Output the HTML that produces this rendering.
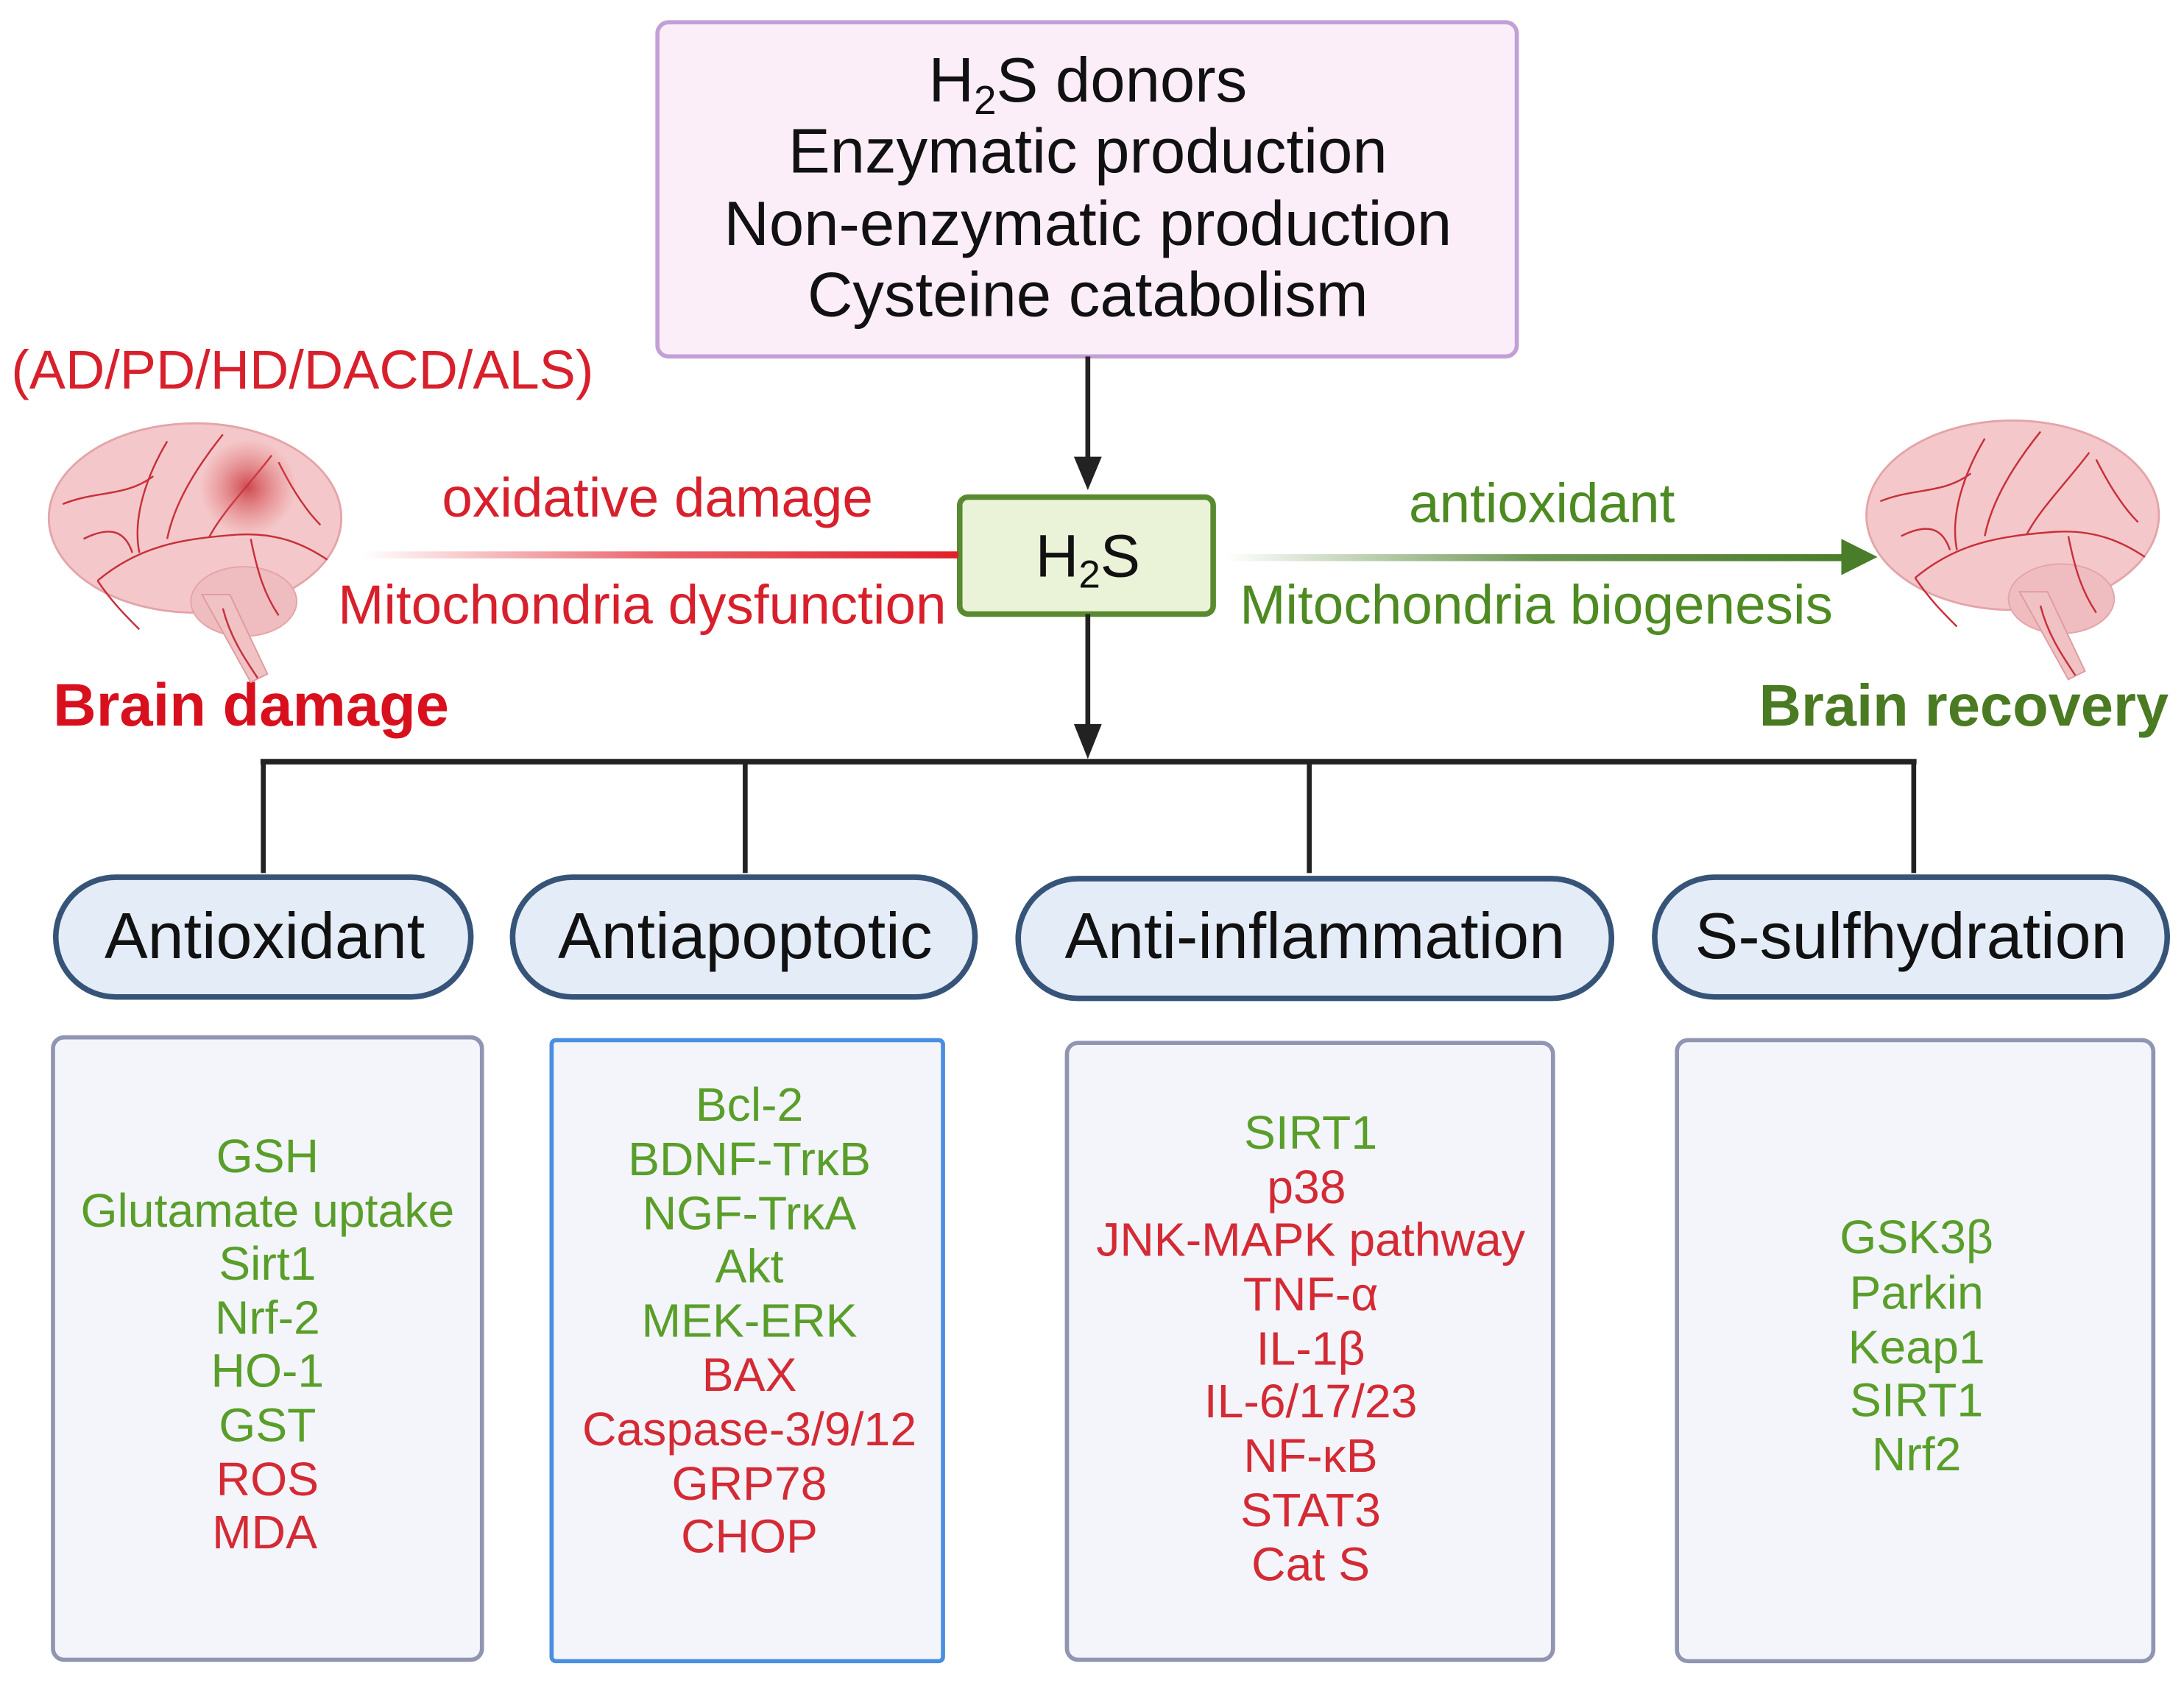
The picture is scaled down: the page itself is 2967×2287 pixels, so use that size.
<!DOCTYPE html>
<html><head><meta charset="utf-8"><style>
html,body{margin:0;padding:0;background:#fff;}
svg{display:block;}
text{font-family:"Liberation Sans",sans-serif;}
</style></head><body>
<svg width="2967" height="2287" viewBox="0 0 1568 1208.7" xmlns="http://www.w3.org/2000/svg">
<defs>
<linearGradient id="rg" x1="0" x2="1" y1="0" y2="0"><stop offset="0" stop-color="#e0202a" stop-opacity="0"/><stop offset="0.5" stop-color="#e0202a" stop-opacity="0.7"/><stop offset="1" stop-color="#e0202a"/></linearGradient>
<linearGradient id="gg" x1="0" x2="1" y1="0" y2="0"><stop offset="0" stop-color="#4a7d2a" stop-opacity="0"/><stop offset="0.5" stop-color="#4a7d2a" stop-opacity="0.8"/><stop offset="1" stop-color="#4a7d2a"/></linearGradient>
<radialGradient id="spot"><stop offset="0" stop-color="#c8343c" stop-opacity="0.85"/><stop offset="1" stop-color="#e06060" stop-opacity="0"/></radialGradient>
<g id="brain">
<ellipse cx="0" cy="0" rx="105" ry="68" fill="#f4c8ca" stroke="#e4a4a8" stroke-width="1.5"/>
<ellipse cx="35" cy="60" rx="38" ry="25" fill="#efbcc0" stroke="#e4a4a8"/>
<path d="M5 55 L40 118 L52 112 L25 55Z" fill="#f0c2c4" stroke="#e09a9e"/>
<g fill="none" stroke="#c8303a" stroke-width="1.3">
<path d="M-70 45 C-40 20 -10 15 30 12 C60 10 80 20 95 30"/>
<path d="M-40 25 C-45 0 -35 -30 -20 -55"/>
<path d="M-20 15 C-15 -10 0 -35 20 -60"/>
<path d="M10 14 C20 -5 40 -25 55 -45"/>
<path d="M-70 45 C-60 60 -50 70 -40 80"/>
<path d="M-95 -10 C-70 -20 -50 -15 -30 -30"/>
<path d="M40 15 C45 40 50 55 60 70"/>
<path d="M20 65 C25 85 35 100 45 115"/>
<path d="M-80 15 C-60 5 -50 10 -45 25"/>
<path d="M60 -40 C70 -20 80 -5 90 5"/>
</g>
</g>
</defs>

<rect x="472" y="16" width="617" height="240" rx="8" fill="#fbeef8" stroke="#c2a0d6" stroke-width="3"/>
<g font-size="45" fill="#111" text-anchor="middle">
<text x="781" y="73">H<tspan font-size="29" dy="9">2</tspan><tspan dy="-9">S donors</tspan></text>
<text x="781" y="124">Enzymatic production</text>
<text x="781" y="176">Non-enzymatic production</text>
<text x="781" y="227">Cysteine catabolism</text>
</g>

<line x1="781" y1="256" x2="781" y2="330" stroke="#222" stroke-width="3.5"/>
<polygon points="771,328 791,328 781,352" fill="#222"/>

<rect x="689" y="357" width="182" height="84" rx="6" fill="#eaf3d8" stroke="#5a8a30" stroke-width="4"/>
<text x="781" y="414" font-size="43" fill="#111" text-anchor="middle">H<tspan font-size="28" dy="8">2</tspan><tspan dy="-8">S</tspan></text>

<rect x="260" y="396" width="428" height="5" fill="url(#rg)"/>
<rect x="880" y="398" width="445" height="5" fill="url(#gg)"/>
<polygon points="1322,387 1348,400 1322,413" fill="#4a7d2a"/>

<g font-size="39.5" text-anchor="middle">
<text x="472" y="371" fill="#d8202c">oxidative damage</text>
<text x="461" y="448" fill="#d8202c">Mitochondria dysfunction</text>
<text x="1107" y="375" fill="#4e8a22">antioxidant</text>
<text x="1103" y="448" fill="#4e8a22">Mitochondria biogenesis</text>
</g>
<text x="8" y="279" font-size="39" fill="#d8202c">(AD/PD/HD/DACD/ALS)</text>
<text x="38" y="521" font-size="43" font-weight="bold" fill="#d8101e">Brain damage</text>
<text x="1557" y="521" font-size="42" font-weight="bold" fill="#4a7a22" text-anchor="end">Brain recovery</text>

<use href="#brain" transform="translate(140,372)"/>
<circle cx="178" cy="350" r="35" fill="url(#spot)"/>
<use href="#brain" transform="translate(1445,370)"/>

<line x1="781" y1="441" x2="781" y2="522" stroke="#222" stroke-width="3.5"/>
<polygon points="771,520 791,520 781,545" fill="#222"/>
<line x1="187" y1="547" x2="1376" y2="547" stroke="#222" stroke-width="4"/>
<g stroke="#222" stroke-width="3.5">
<line x1="189" y1="547" x2="189" y2="627"/>
<line x1="535" y1="547" x2="535" y2="627"/>
<line x1="940" y1="547" x2="940" y2="627"/>
<line x1="1374" y1="547" x2="1374" y2="627"/>
</g>

<g fill="#e4ecf8" stroke="#365478" stroke-width="4">
<rect x="40" y="630" width="298" height="86" rx="43"/>
<rect x="368" y="630" width="332" height="86" rx="43"/>
<rect x="731" y="631" width="426" height="86" rx="43"/>
<rect x="1188" y="630" width="368" height="86" rx="43"/>
</g>
<g font-size="46.5" fill="#111" text-anchor="middle">
<text x="190" y="688">Antioxidant</text>
<text x="535" y="688">Antiapoptotic</text>
<text x="944" y="688">Anti-inflammation</text>
<text x="1372" y="688">S-sulfhydration</text>
</g>

<g fill="#f3f5fb" stroke-width="3">
<rect x="38" y="745" width="308" height="447" rx="8" stroke="#9095b2"/>
<rect x="396" y="747" width="281" height="446" rx="3" stroke="#4a8ee0"/>
<rect x="766" y="749" width="349" height="443" rx="8" stroke="#9095b2"/>
<rect x="1204" y="747" width="342" height="446" rx="8" stroke="#9095b2"/>
</g>

<g font-size="34" text-anchor="middle">
<g fill="#5a9e2a">
<text x="192" y="842">GSH</text>
<text x="192" y="881">Glutamate uptake</text>
<text x="192" y="919">Sirt1</text>
<text x="192" y="958">Nrf-2</text>
<text x="192" y="996">HO-1</text>
<text x="192" y="1035">GST</text>
</g>
<g fill="#d42a34">
<text x="192" y="1074">ROS</text>
<text x="190" y="1112">MDA</text>
</g>
<g fill="#5a9e2a">
<text x="538" y="805">Bcl-2</text>
<text x="538" y="844">BDNF-TrκB</text>
<text x="538" y="883">NGF-TrκA</text>
<text x="538" y="921">Akt</text>
<text x="538" y="960">MEK-ERK</text>
</g>
<g fill="#d42a34">
<text x="538" y="999">BAX</text>
<text x="538" y="1038">Caspase-3/9/12</text>
<text x="538" y="1077">GRP78</text>
<text x="538" y="1115">CHOP</text>
</g>
<g fill="#5a9e2a">
<text x="941" y="825">SIRT1</text>
</g>
<g fill="#d42a34">
<text x="938" y="864">p38</text>
<text x="941" y="902">JNK-MAPK pathway</text>
<text x="941" y="941">TNF-α</text>
<text x="941" y="980">IL-1β</text>
<text x="941" y="1018">IL-6/17/23</text>
<text x="941" y="1057">NF-κB</text>
<text x="941" y="1096">STAT3</text>
<text x="941" y="1135">Cat S</text>
</g>
<g fill="#5a9e2a">
<text x="1376" y="900">GSK3β</text>
<text x="1376" y="940">Parkin</text>
<text x="1376" y="979">Keap1</text>
<text x="1376" y="1017">SIRT1</text>
<text x="1376" y="1056">Nrf2</text>
</g>
</g>
</svg>
</body></html>
